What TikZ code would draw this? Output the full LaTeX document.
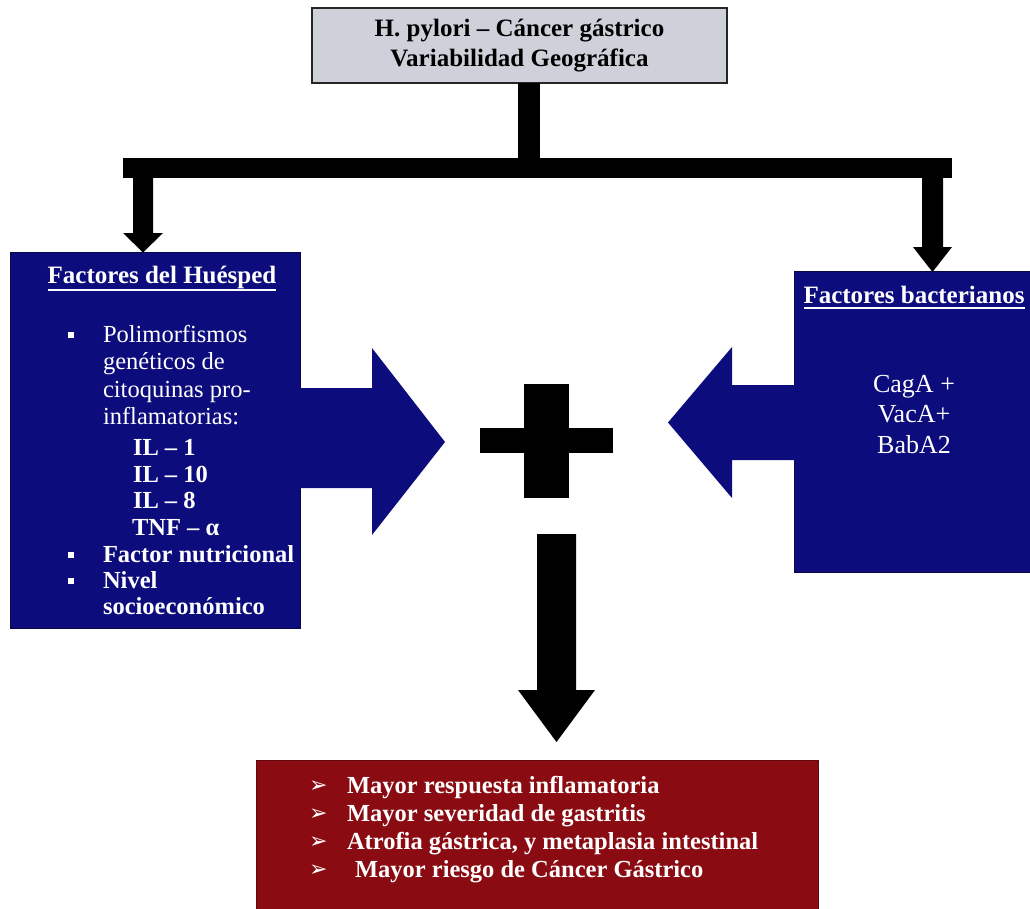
\documentclass[tikz,border=0pt]{standalone}
\usepackage{fontspec}
\setmainfont{Liberation Serif}
\newfontfamily\dejavu{DejaVu Sans}
\definecolor{navyb}{RGB}{12,12,125}
\definecolor{navyd}{RGB}{8,8,70}
\definecolor{darkredb}{RGB}{138,12,18}
\definecolor{titlegray}{RGB}{206,209,217}
\begin{document}
\begin{tikzpicture}[x=1pt,y=-1pt,
  every node/.style={inner sep=0pt, outer sep=0pt},
  bluebox/.style={fill=navyb, draw=navyd, line width=1pt},
  redbox/.style={fill=darkredb, draw=darkredb!70!black, line width=1pt},
  wtxt/.style={text=white, anchor=base west, font=\fontsize{24.5}{27}\selectfont},
  wbold/.style={text=white, anchor=base west, font=\bfseries\fontsize{24.5}{27}\selectfont},
  wtitle/.style={text=white, anchor=base, font=\bfseries\fontsize{25}{30}\selectfont},
  wcenter/.style={text=white, anchor=base, font=\fontsize{26}{30}\selectfont},
  sq/.style={fill=white, minimum size=6.5pt},
  arr/.style={text=white, anchor=base west, font=\dejavu\bfseries\fontsize{22}{24}\selectfont},
  ulin/.style={draw=white, line width=1.8pt},
  blk/.style={fill=black}]
\useasboundingbox (0,0) rectangle (1030,908);
\fill[white] (0,0) rectangle (1030,908);

% title
\node[draw=black!85, line width=1.3pt, fill=titlegray, minimum width=415pt, minimum height=75pt,
      align=center, font=\bfseries\fontsize{25}{30}\selectfont] (title) at (519.5,45.5)
      {H. pylori – Cáncer gástrico\\Variabilidad Geográfica};

% boxes
\node[bluebox, minimum width=290pt, minimum height=376pt] (host) at (155,440) {};
\node[bluebox, minimum width=240pt, minimum height=301pt] (bact) at (914,421.5) {};
\node[redbox, minimum width=562pt, minimum height=152pt] (result) at (537,836) {};

% tree connector
\fill[blk] (518,83) rectangle (540,160);
\fill[blk] (123,158) rectangle (952,178);
\fill[blk] (133,176) -- (153,176) -- (153,233) -- (163,233) -- (143,252.5) -- (123,233) -- (133,233) -- cycle;
\fill[blk] (922,176) -- (943,176) -- (943,247) -- (952,247) -- (932.5,272) -- (913,247) -- (922,247) -- cycle;

% block arrows
\fill[navyb] (298,388) -- (372,388) -- (372,348) -- (445,442) -- (372,535) -- (372,488) -- (298,488) -- cycle;
\fill[navyb] (796,385) -- (732,385) -- (732,347) -- (668,422.5) -- (732,498) -- (732,460) -- (796,460) -- cycle;

% plus sign
\fill[blk] (524,384) rectangle (569,498);
\fill[blk] (480,428) rectangle (613,453);

% down arrow
\fill[blk] (537,534) -- (576,534) -- (576,690) -- (595,690) -- (556.5,742) -- (518,690) -- (537,690) -- cycle;

% left box text
\node[wtitle] (hostT) at (162,283) {Factores del Huésped};
\draw[ulin] ([yshift=-7pt]hostT.base west) -- ([yshift=-7pt]hostT.base east);
\node[sq] (hb1) at (71,335) {};
\node[sq] (hb2) at (71,555) {};
\node[sq] (hb3) at (71,581) {};
\node[wtxt] (h1) at (103,342) {Polimorfismos};
\node[wtxt] (h2) at (103,369) {genéticos de};
\node[wtxt] (h3) at (103,397) {citoquinas pro-};
\node[wtxt] (h4) at (103,424) {inflamatorias:};
\node[wbold] (h5) at (133,455) {IL – 1};
\node[wbold] (h6) at (133,482) {IL – 10};
\node[wbold] (h7) at (133,508) {IL – 8};
\node[wbold] (h8) at (132,535) {TNF – α};
\node[wbold] (h9) at (103,562) {Factor nutricional};
\node[wbold] (h10) at (103,588) {Nivel};
\node[wbold] (h11) at (103,614) {socioeconómico};

% right box text
\node[wtitle] (bactT) at (914,303) {Factores bacterianos};
\draw[ulin] ([yshift=-5pt]bactT.base west) -- ([yshift=-5pt]bactT.base east);
\node[wcenter] (b1) at (914,392) {CagA +};
\node[wcenter] (b2) at (914,422) {VacA+};
\node[wcenter] (b3) at (914,453) {BabA2};

% result text
\node[arr] (r1a) at (309,792) {➢};
\node[arr] (r2a) at (309,820) {➢};
\node[arr] (r3a) at (309,848) {➢};
\node[arr] (r4a) at (309,876) {➢};
\node[wbold] (r1) at (347,793) {Mayor respuesta inflamatoria};
\node[wbold] (r2) at (347,821) {Mayor severidad de gastritis};
\node[wbold] (r3) at (347,849) {Atrofia gástrica, y metaplasia intestinal};
\node[wbold] (r4) at (355,877) {Mayor riesgo de Cáncer Gástrico};
\end{tikzpicture}
\end{document}
